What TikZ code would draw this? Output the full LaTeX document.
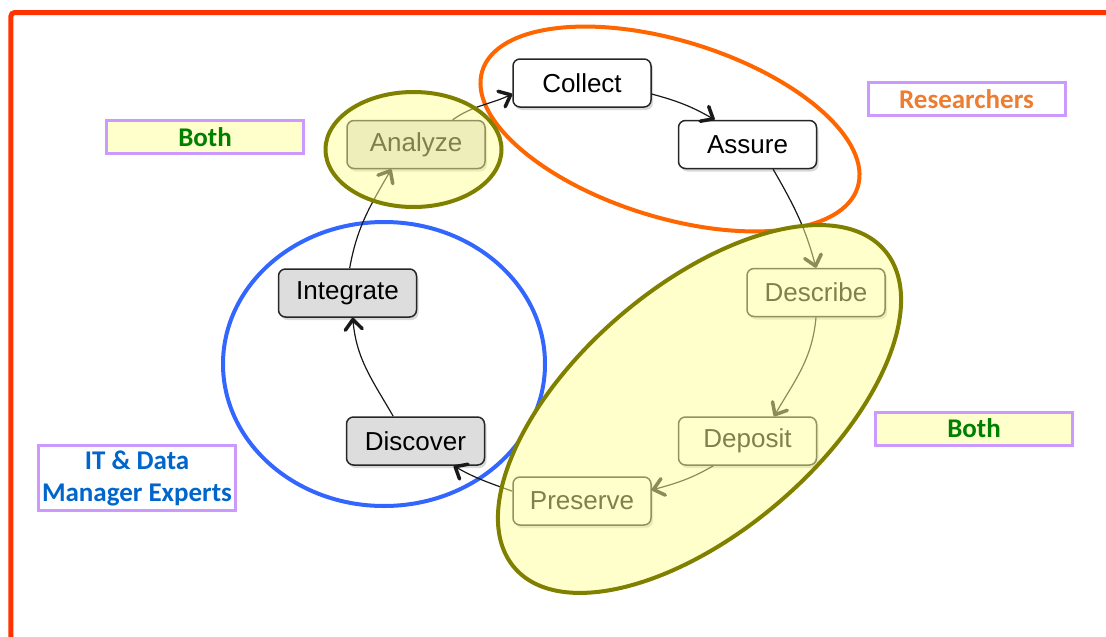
\documentclass[tikz,border=0pt]{standalone}
\usepackage{fontspec}
\usetikzlibrary{arrows.meta,shadows}
\newfontfamily\boxfont{Liberation Sans}
\newfontfamily\lblfont{Carlito}
\definecolor{framered}{RGB}{255,51,0}
\definecolor{resorange}{RGB}{255,102,0}
\definecolor{itblue}{RGB}{51,102,255}
\definecolor{olivebd}{RGB}{128,128,0}
\definecolor{hilite}{RGB}{255,255,153}
\definecolor{paleyellow}{RGB}{255,255,204}
\definecolor{lavender}{RGB}{204,153,255}
\definecolor{txtgreen}{RGB}{0,128,0}
\definecolor{txtorange}{RGB}{237,125,49}
\definecolor{txtblue}{RGB}{0,102,204}
\definecolor{boxgreyfill}{RGB}{221,221,221}
\tikzset{
  stagebox/.style={draw=black!85, line width=1.5pt, rounded corners=7pt,
    minimum width=138pt, minimum height=48pt, inner sep=0pt,
    font=\boxfont\fontsize{26pt}{30pt}\selectfont,
    drop shadow={shadow xshift=2pt, shadow yshift=-3pt, opacity=0.3}},
  boxwhite/.style={stagebox, fill=white},
  boxgrey/.style={stagebox, fill=boxgreyfill},
  flow/.style={line width=1.2pt, draw=black!90,
    -{Straight Barb[length=10pt,width=17pt,line width=3.5pt,round]}},
  rolebox/.style={draw=lavender, line width=3pt, minimum width=197pt,
    minimum height=33pt, inner sep=0pt, align=center,
    font=\lblfont\bfseries\fontsize{27pt}{32pt}\selectfont},
  groupring/.style={line width=4pt},
  sharedgroup/.style={draw=olivebd, line width=4pt, fill=hilite, fill opacity=0.5, draw opacity=1},
  sharedmask/.style={fill=white, draw=none},
  smallshared/.style={},
  bigshared/.style={rotate around={40.6:(699.5,-409)}},
}
\begin{document}
\begin{tikzpicture}[x=1pt,y=1pt]
\useasboundingbox (0,0) rectangle (1106,-637);
\clip (0,0) rectangle (1106,-637);

% outer frame
\draw[framered, line width=5pt, rounded corners=4pt]
  (10.8,-700) -- (10.8,-12.5) -- (1200,-12.5);

% role labels
\node[rolebox, fill=paleyellow, text=txtgreen] (bothA) at (205,-137) {Both};
\node[rolebox, fill=white, text=txtorange] (res) at (966.5,-99) {Researchers};
\node[rolebox, fill=paleyellow, text=txtgreen] (bothB) at (974,-428.5) {Both};
\node[rolebox, fill=white, text=txtblue, minimum height=65pt] (itdm) at (137,-478)
  {IT \& Data\\Manager Experts};

% group outlines lying under the shared regions
\draw[groupring, itblue] (384,-364) ellipse [x radius=161pt, y radius=142pt];
\draw[groupring, resorange, rotate around={-17.2:(670,-129)}]
  (670,-129) ellipse [x radius=196.5pt, y radius=88.3pt];

% hide those outlines inside the shared regions
\fill[sharedmask] (413.5,-149.5) ellipse [x radius=88pt, y radius=57.5pt];
\fill[sharedmask, bigshared] (699.5,-409) ellipse [x radius=243.8pt, y radius=122.5pt];

% lifecycle stages
\node[boxwhite] (co) at (582,-83)  {Collect};
\node[boxwhite] (as) at (747.5,-144.5) {Assure};
\node[boxwhite] (ds) at (816,-292.5) {Describe};
\node[boxwhite] (de) at (747.5,-441) {Deposit};
\node[boxwhite] (pr) at (582,-501) {Preserve};
\node[boxgrey]  (di) at (415.5,-441) {Discover};
\node[boxgrey]  (ig) at (347.5,-293) {Integrate};
\node[boxgrey]  (an) at (416,-144.5) {Analyze};

% cycle connectors
\draw[flow] (an.34)  to[out=35,in=-155]  (co.189);
\draw[flow] (co.351) to[out=-15,in=150]  (as.143);
\draw[flow] (as.316) to[out=-60,in=105]  (ds.north);
\draw[flow] (ds.south) to[out=-95,in=60] (de.43);
\draw[flow] (de.216) to[out=-150,in=15]  (pr.9);
\draw[flow] (pr.172) to[out=160,in=-30]  (di.327);
\draw[flow] (di.132) to[out=120,in=-85]  (ig.282);
\draw[flow] (ig.85)  to[out=80,in=-120]  (an.225);

% shared responsibility regions, translucent over the stages
\draw[sharedgroup] (413.5,-149.5) ellipse [x radius=88pt, y radius=57.5pt];
\draw[sharedgroup, bigshared] (699.5,-409) ellipse [x radius=243.8pt, y radius=122.5pt];
\end{tikzpicture}
\end{document}
